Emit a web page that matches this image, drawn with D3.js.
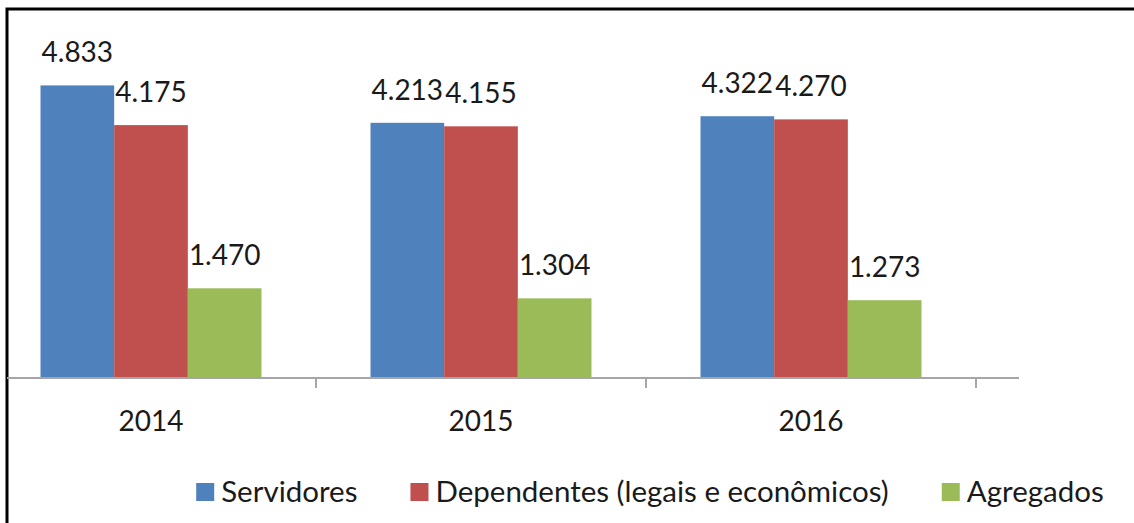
<!DOCTYPE html>
<html>
<head>
<meta charset="utf-8">
<script src="https://cdn.jsdelivr.net/npm/d3@7"></script>
<style>
  body { margin: 0; background: #fff; }
  text { font-family: Lato, "Open Sans", sans-serif; fill: #1a1a1a; }
</style>
</head>
<body>
<svg id="chart" width="1134" height="523"></svg>
<script>
// Data
var years = ["2014", "2015", "2016"];
var seriesNames = ["Servidores", "Dependentes (legais e econômicos)", "Agregados"];
var servidores = [4833, 4213, 4322];
var dependentes = [4175, 4155, 4270];
var agregados = [1470, 1304, 1273];
var valueLabels = [["4.833", "4.213", "4.322"], ["4.175", "4.155", "4.270"], ["1.470", "1.304", "1.273"]];
var colors = ["#4f81bd", "#c0504d", "#9bbb59"];

var series = [servidores, dependentes, agregados];

var svg = d3.select("#chart");
var fontSize = 28;
var legendFont = 29.5;

// frame (cropped picture: only left and top edges visible)
svg.append("rect")
    .attr("x", 7)
    .attr("y", 9)
    .attr("width", 1160)
    .attr("height", 540)
    .attr("fill", "none")
    .attr("stroke", "#000")
    .attr("stroke-width", 3);

// Scales
var x = d3.scaleBand()
    .domain(years)
    .range([-14, 976])
    .paddingInner(0)
    .paddingOuter(0);

var groupWidth = 221;
var x1 = d3.scaleBand()
    .domain(d3.range(series.length))
    .range([0, groupWidth]);

var y = d3.scaleLinear()
    .domain([0, 6000])
    .range([377, 15]);

// Bars
series.forEach(function(vals, s) {
    var g = svg.append("g");
    g.selectAll("rect")
        .data(vals)
        .enter()
        .append("rect")
        .attr("x", function(d, i) {
            return x(years[i]) + (x.bandwidth() - groupWidth) / 2 + x1(s);
        })
        .attr("y", d => y(d))
        .attr("width", x1.bandwidth())
        .attr("height", d => y(0) - y(d))
        .attr("fill", colors[s]);

    g.selectAll("text")
        .data(vals)
        .enter()
        .append("text")
        .attr("x", function(d, i) {
            return x(years[i]) + (x.bandwidth() - groupWidth) / 2 + x1(s) + x1.bandwidth() / 2;
        })
        .attr("y", d => y(d) - 23)
        .attr("text-anchor", "middle")
        .style("font-size", fontSize + "px")
        .text((d, i) => valueLabels[s][i]);
});

// X axis
var axis = svg.append("g");
axis.append("line")
    .attr("x1", 7)
    .attr("x2", 1019)
    .attr("y1", y(0) + 1)
    .attr("y2", y(0) + 1)
    .attr("stroke", "#a6a6a6")
    .attr("stroke-width", 2);

var ticks = years.map(d => x(d) + x.bandwidth());
axis.selectAll(".tick")
    .data(ticks)
    .enter()
    .append("line")
    .attr("x1", d => d)
    .attr("x2", d => d)
    .attr("y1", y(0) + 1)
    .attr("y2", y(0) + 11)
    .attr("stroke", "#a6a6a6")
    .attr("stroke-width", 2);

axis.selectAll("text")
    .data(years)
    .enter()
    .append("text")
    .attr("x", d => x(d) + x.bandwidth() / 2)
    .attr("y", 431)
    .attr("text-anchor", "middle")
    .style("font-size", fontSize + "px")
    .text(d => d);

// Legend
var legend = svg.append("g");
var items = legend.selectAll("g")
    .data(seriesNames)
    .enter()
    .append("g");

items.append("rect")
    .attr("x", 0)
    .attr("y", 483)
    .attr("width", 18)
    .attr("height", 18)
    .attr("fill", (d, i) => colors[i]);

items.append("text")
    .attr("x", 25)
    .attr("y", 502)
    .style("font-size", legendFont + "px")
    .text(d => d);

var widths = [];
items.each(function() {
    widths.push(25 + d3.select(this).select("text").node().getComputedTextLength());
});
var gap = 53;
var total = d3.sum(widths) + gap * (widths.length - 1);
var pos = 650 - total / 2;
items.attr("transform", function(d, i) {
    var t = "translate(" + pos + ",0)";
    pos += widths[i] + gap;
    return t;
});
</script>
</body>
</html>
